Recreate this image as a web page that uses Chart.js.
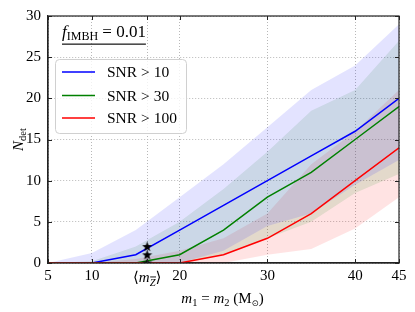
<!DOCTYPE html>
<html>
<head>
<meta charset="utf-8">
<script src="https://cdn.jsdelivr.net/npm/chart.js@4"></script>
<style>
  body { margin: 0; background: #fff; }
  canvas { display: block; }
</style>
</head>
<body>
<canvas id="chart" width="415" height="312"></canvas>
<script>
// m1 = m2 grid (solar masses)
const massGrid = [5, 10, 15, 20, 25, 30, 35, 40, 45]
// median detections
const snr10 = [0, 0, 1, 4, 7, 10, 13, 16, 20]
const snr30 = [0, 0, 0, 1, 4, 8, 11, 15, 19]
const snr100 = [0, 0, 0, 0, 1, 3, 6, 10, 14]
// shaded ranges
const snr10Hi = [0, 1.2, 4, 8, 12, 16.5, 21, 24, 29]
const snr10Lo = [0, 0, 0, 0, 1.5, 4.5, 6, 9.5, 12.5]
const snr30Hi = [0, 0.2, 2, 5, 9, 13.5, 18.5, 21, 27]
const snr30Lo = [0, 0, 0, 0, 1, 3, 5, 8.5, 10.8]
const snr100Hi = [0, 0, 0.5, 1.5, 3, 6, 12, 16, 21]
const snr100Lo = [0, 0, 0, 0, 0, 1, 1.7, 4.2, 8]
// stars at <m_Z>
const mZ = 16.3
const starValues = [2, 1, 0]

const seriesLabels = ['SNR > 10', 'SNR > 30', 'SNR > 100']
const seriesColors = ['#0000ff', '#008000', '#ff0000']
const xTickValues = [5, 10, mZ, 20, 30, 40, 45]
const yTickValues = [0, 5, 10, 15, 20, 25, 30]

const pts = arr => massGrid.map((m, i) => ({ x: m, y: arr[i] }))

const SERIF = '"Liberation Serif", "DejaVu Serif", serif'

// filled 5 point star for the marker
const starImg = document.createElement('canvas')
starImg.width = 11; starImg.height = 11
;(() => {
  const c = starImg.getContext('2d')
  c.beginPath()
  for (let k = 0; k < 10; k++) {
    const r = k % 2 ? 2.2 : 5.3
    const a = -Math.PI / 2 + k * Math.PI / 5
    const px = 5.5 + r * Math.cos(a), py = 5.9 + r * Math.sin(a)
    k ? c.lineTo(px, py) : c.moveTo(px, py)
  }
  c.closePath()
  c.fillStyle = '#000'
  c.fill()
})()

const band = (arr, fill, color) => ({
  data: pts(arr), fill: fill, backgroundColor: color, borderWidth: 0,
  pointRadius: 0, order: 10
})
const line = (arr, i) => ({
  data: pts(arr), borderColor: seriesColors[i], borderWidth: 1.5,
  pointRadius: 0, fill: false, tension: 0, order: 3 - i
})

// draw runs of text with different fonts / offsets
function drawRuns(ctx, x, y, runs, align) {
  let w = 0
  runs.forEach(r => { ctx.font = r.font; r.w = ctx.measureText(r.t).width; w += r.w })
  let cx = align === 'center' ? x - w / 2 : x
  ctx.textBaseline = 'alphabetic'
  ctx.textAlign = 'left'
  runs.forEach(r => {
    ctx.font = r.font
    ctx.fillText(r.t, cx, y + (r.dy || 0))
    cx += r.w
  })
  return w
}

const annot = {
  id: 'annot',
  afterDraw(chart) {
    const ctx = chart.ctx
    const a = chart.chartArea
    const xs = chart.scales.x, ys = chart.scales.y
    ctx.save()
    ctx.fillStyle = '#000'
    ctx.strokeStyle = '#222'
    // frame
    ctx.lineWidth = 1.2
    ctx.strokeRect(a.left, a.top, a.right - a.left, a.bottom - a.top)
    // inward ticks
    ctx.lineWidth = 1
    ctx.beginPath()
    xTickValues.forEach(v => {
      const px = Math.round(xs.getPixelForValue(v)) + 0.5
      ctx.moveTo(px, a.bottom); ctx.lineTo(px, a.bottom - 4)
      ctx.moveTo(px, a.top); ctx.lineTo(px, a.top + 4)
    })
    yTickValues.forEach(v => {
      const py = Math.round(ys.getPixelForValue(v)) + 0.5
      ctx.moveTo(a.left, py); ctx.lineTo(a.left + 4, py)
      ctx.moveTo(a.right, py); ctx.lineTo(a.right - 4, py)
    })
    ctx.stroke()

    // <m_Z> tick label
    const mx = xs.getPixelForValue(mZ)
    const fs = 15, fz = 10.5
    const lw = drawRuns(ctx, mx, a.bottom + 19, [
      { t: '\u27E8', font: fs + 'px ' + SERIF },
      { t: 'm', font: 'italic ' + fs + 'px ' + SERIF },
      { t: 'Z', font: 'italic ' + fz + 'px ' + SERIF, dy: 3.5 },
      { t: '\u27E9', font: fs + 'px ' + SERIF }
    ], 'center')
    // bar over Z
    ctx.font = fs + 'px ' + SERIF
    const w1 = ctx.measureText('\u27E8').width
    ctx.font = 'italic ' + fs + 'px ' + SERIF
    const w2 = ctx.measureText('m').width
    ctx.font = 'italic ' + fz + 'px ' + SERIF
    const wz = ctx.measureText('Z').width
    const zx = mx - lw / 2 + w1 + w2
    ctx.fillRect(zx + 0.5, a.bottom + 13.5, wz, 0.9)

    // x title
    drawRuns(ctx, (a.left + a.right) / 2 - 1, a.bottom + 40, [
      { t: 'm', font: 'italic 15px ' + SERIF },
      { t: '1', font: '10.5px ' + SERIF, dy: 3 },
      { t: ' = ', font: '15px ' + SERIF },
      { t: 'm', font: 'italic 15px ' + SERIF },
      { t: '2', font: '10.5px ' + SERIF, dy: 3 },
      { t: ' (M', font: '15px ' + SERIF },
      { t: '\u2299', font: '8.5px "DejaVu Sans", sans-serif', dy: 3 },
      { t: ')', font: '15px ' + SERIF }
    ], 'center')

    // y title
    ctx.save()
    ctx.translate(23, (a.top + a.bottom) / 2)
    ctx.rotate(-Math.PI / 2)
    drawRuns(ctx, 0, 0, [
      { t: 'N', font: 'italic 15px ' + SERIF },
      { t: 'det', font: '10.5px ' + SERIF, dy: 3 }
    ], 'center')
    ctx.restore()

    // f_IMBH label
    const fw = drawRuns(ctx, 62, 37, [
      { t: 'f', font: 'italic 17px ' + SERIF },
      { t: 'IMBH', font: '12px ' + SERIF, dy: 3 },
      { t: ' = 0.01', font: '17px ' + SERIF }
    ], 'left')
    ctx.fillStyle = '#222'
    ctx.fillRect(62, 43.5, fw, 1.3)

    // legend
    const bx = 55.5, by = 59.5, bw = 131, bh = 74
    ctx.beginPath()
    ctx.roundRect(bx, by, bw, bh, 4)
    ctx.fillStyle = 'rgba(255,255,255,0.8)'
    ctx.fill()
    ctx.strokeStyle = '#d0d0d0'
    ctx.lineWidth = 1
    ctx.stroke()
    const rows = [72, 95.5, 118]
    seriesLabels.forEach((lab, i) => {
      ctx.strokeStyle = seriesColors[i]
      ctx.lineWidth = 1.5
      ctx.beginPath()
      ctx.moveTo(62, rows[i]); ctx.lineTo(95, rows[i])
      ctx.stroke()
      ctx.fillStyle = '#000'
      ctx.font = '15.5px ' + SERIF
      ctx.textBaseline = 'middle'
      ctx.fillText(lab, 107, rows[i] + 1)
    })
    ctx.restore()
  }
}

new Chart(document.getElementById('chart'), {
  type: 'line',
  data: {
    datasets: [
      band(snr10Hi, '+1', 'rgba(0,0,255,0.11)'),
      band(snr10Lo, false, 'transparent'),
      band(snr30Hi, '+1', 'rgba(0,128,0,0.11)'),
      band(snr30Lo, false, 'transparent'),
      band(snr100Hi, '+1', 'rgba(255,0,0,0.11)'),
      band(snr100Lo, false, 'transparent'),
      line(snr10, 0),
      line(snr30, 1),
      line(snr100, 2),
      {
        type: 'scatter',
        data: starValues.map(v => ({ x: mZ, y: v })),
        pointStyle: starImg, pointRadius: 5, order: 0
      }
    ]
  },
  options: {
    responsive: false,
    animation: false,
    devicePixelRatio: 1,
    layout: { padding: { top: 13, right: 16, left: 0, bottom: 0 } },
    plugins: { legend: { display: false }, tooltip: { enabled: false } },
    scales: {
      x: {
        type: 'linear', min: 5, max: 45,
        afterBuildTicks: s => { s.ticks = xTickValues.map(v => ({ value: v })) },
        afterFit: s => { s.height = 49 },
        ticks: {
          autoSkip: false, maxRotation: 0, padding: 4,
          color: '#000', font: { family: SERIF, size: 15 },
          callback: v => v === mZ ? '' : String(v)
        },
        grid: { color: '#b8b8b8', drawTicks: false, lineWidth: 1 },
        border: { color: '#222', width: 1.2, dash: [1, 2] }
      },
      y: {
        min: 0, max: 30,
        afterBuildTicks: s => { s.ticks = yTickValues.map(v => ({ value: v })) },
        afterFit: s => { s.width = 48 },
        ticks: {
          padding: 7, color: '#000', font: { family: SERIF, size: 15 }
        },
        grid: { color: '#b8b8b8', drawTicks: false, lineWidth: 1 },
        border: { color: '#222', width: 1.2, dash: [1, 2] }
      }
    }
  },
  plugins: [annot]
})
</script>
</body>
</html>
